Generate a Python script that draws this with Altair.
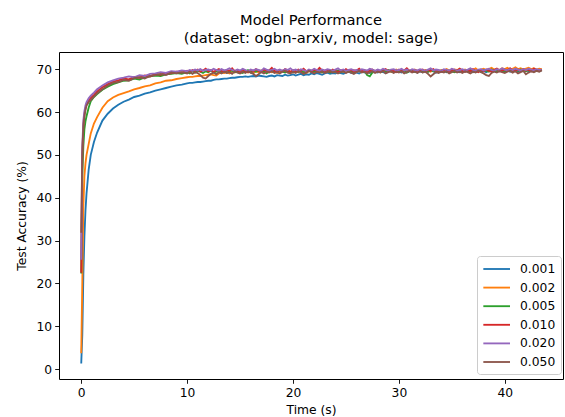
import altair as alt
import pandas as pd

time_s = [0, 0.1, 0.2, 0.3, 0.4, 0.5, 0.7, 0.9, 1.2, 1.5, 2.0, 2.5, 3.0, 3.5,
          4.0, 4.5, 5.0, 5.5, 6.0, 6.5, 7.0, 7.5, 8.0, 8.5, 9.0, 9.5,
          10.0, 10.25, 10.5, 10.75, 11.0, 11.25, 11.5, 11.75,
          12.0, 12.25, 12.5, 12.75, 13.0, 13.25, 13.5, 13.75,
          14.0, 14.25, 14.5, 14.75, 15.0, 15.25, 15.5, 15.75,
          16.0, 16.25, 16.5, 16.75, 17.0, 17.25, 17.5, 17.75,
          18.0, 18.25, 18.5, 18.75, 19.0, 19.25, 19.5, 19.75,
          20.0, 20.25, 20.5, 20.75, 21.0, 21.25, 21.5, 21.75,
          22.0, 22.25, 22.5, 22.75, 23.0, 23.25, 23.5, 23.75,
          24.0, 24.25, 24.5, 24.75, 25.0, 25.25, 25.5, 25.75,
          26.0, 26.25, 26.5, 26.75, 27.0, 27.25, 27.5, 27.75,
          28.0, 28.25, 28.5, 28.75, 29.0, 29.25, 29.5, 29.75,
          30.0, 30.25, 30.5, 30.75, 31.0, 31.25, 31.5, 31.75,
          32.0, 32.25, 32.5, 32.75, 33.0, 33.25, 33.5, 33.75,
          34.0, 34.25, 34.5, 34.75, 35.0, 35.25, 35.5, 35.75,
          36.0, 36.25, 36.5, 36.75, 37.0, 37.25, 37.5, 37.75,
          38.0, 38.25, 38.5, 38.75, 39.0, 39.25, 39.5, 39.75,
          40.0, 40.25, 40.5, 40.75, 41.0, 41.25, 41.5, 41.75,
          42.0, 42.25, 42.5, 42.75, 43.0, 43.25, 43.5]

acc_0001 = [1.3, 8.0, 22.0, 31.0, 37.0, 41.0, 46.5, 50.0, 53.0, 55.2, 58.0, 59.6, 60.8, 61.7,
            62.4, 62.9, 63.5, 63.8, 64.3, 64.6, 65.0, 65.3, 65.6, 65.9, 66.2, 66.4,
            66.7, 66.8, 66.8, 66.9, 67.0, 67.0, 67.1, 67.2,
            67.3, 67.3, 67.5, 67.6, 67.6, 67.7, 67.8, 67.8,
            67.9, 68.0, 68.0, 68.1, 68.2, 68.2, 68.3, 68.2,
            68.3, 68.4, 68.3, 68.5, 68.4, 68.3, 68.2, 68.4,
            68.5, 68.3, 68.6, 68.5, 68.4, 68.7, 68.5, 68.6,
            68.8, 68.5, 68.7, 68.9, 68.6, 68.8, 68.7, 69.0,
            68.8, 69.1, 68.9, 68.7, 69.0, 69.2, 68.9, 69.1,
            69.0, 69.3, 69.1, 68.9, 69.2, 69.4, 69.1, 69.3,
            69.2, 69.0, 69.4, 69.2, 69.5, 69.1, 69.3, 69.4,
            69.2, 69.5, 69.3, 69.1, 69.4, 69.6, 69.3, 69.5,
            69.4, 69.2, 69.6, 69.3, 69.5, 69.7, 69.4, 69.2,
            69.5, 69.3, 69.6, 69.4, 69.7, 69.5, 69.2, 69.6,
            69.4, 69.7, 69.3, 69.5, 69.8, 69.4, 69.6, 69.3,
            69.6, 69.4, 69.7, 69.5, 69.3, 69.6, 69.8, 69.4,
            69.6, 69.3, 69.7, 69.5, 69.8, 69.4, 69.6, 69.7,
            69.5, 69.8, 69.4, 69.6, 69.9, 69.5, 69.7, 69.6,
            69.8, 69.5, 69.7, 69.9, 69.6, 69.8, 69.7]

acc_0002 = [3.7, 20.0, 38.0, 45.0, 48.0, 50.0, 52.5, 55.0, 57.3, 58.8, 61.0, 62.5, 63.4, 64.0,
            64.4, 64.8, 65.3, 65.6, 66.0, 66.2, 66.7, 66.9, 67.3, 67.4, 67.7, 67.9,
            68.1, 68.2, 68.2, 68.3, 68.4, 68.4, 68.5, 68.6,
            68.7, 68.8, 68.6, 68.5, 69.0, 69.2, 69.1, 69.3,
            69.0, 69.4, 69.2, 69.5, 69.1, 69.3, 69.6, 69.2,
            69.4, 69.1, 69.5, 69.3, 69.7, 69.2, 69.4, 69.6,
            69.3, 69.5, 69.1, 69.4, 69.6, 69.3, 69.7, 69.4,
            69.2, 69.5, 69.3, 69.6, 69.4, 69.1, 69.5, 69.7,
            69.3, 69.6, 69.4, 69.2, 69.5, 69.8, 69.4, 69.6,
            69.3, 69.5, 69.7, 69.4, 69.2, 69.6, 69.5, 69.8,
            69.4, 69.6, 69.3, 69.7, 69.5, 69.4, 69.8, 69.5,
            69.6, 69.3, 69.7, 69.5, 69.8, 69.4, 69.6, 69.9,
            69.5, 69.7, 69.4, 69.8, 69.6, 69.5, 69.9, 69.6,
            69.7, 69.5, 69.8, 69.6, 69.4, 69.9, 69.7, 69.5,
            69.8, 69.6, 70.0, 69.7, 69.5, 69.9, 69.8, 70.1,
            69.7, 69.9, 69.6, 70.0, 69.8, 70.2, 69.7, 69.9,
            70.1, 69.8, 70.0, 70.3, 69.9, 70.1, 69.8, 70.2,
            70.0, 70.3, 69.9, 70.1, 70.4, 70.0, 70.2, 69.9,
            70.1, 70.3, 70.0, 70.2, 69.9, 70.1, 70.0]

acc_0005 = [22.3, 45.0, 52.0, 56.0, 57.8, 59.0, 61.0, 62.5, 63.5, 64.2, 65.2, 65.9, 66.5, 66.9,
            67.3, 67.4, 67.8, 67.6, 68.1, 68.3, 68.5, 68.4, 68.8, 68.9, 69.1, 68.9,
            69.3, 69.0, 69.5, 69.2, 69.6, 69.4, 69.1, 69.5,
            69.3, 69.7, 69.2, 69.4, 69.8, 69.3, 69.6, 69.2,
            69.5, 69.7, 69.3, 69.6, 69.4, 69.1, 69.5, 69.8,
            69.2, 69.6, 69.4, 69.7, 69.3, 69.5, 69.0, 69.4,
            69.7, 69.3, 69.5, 69.8, 69.4, 69.2, 69.6, 69.3,
            69.5, 69.8, 69.4, 69.6, 69.2, 69.5, 69.7, 69.3,
            69.6, 69.4, 69.8, 69.3, 69.5, 69.7, 69.2, 69.6,
            69.4, 69.7, 69.3, 69.5, 69.8, 69.4, 69.6, 69.2,
            69.5, 69.7, 69.4, 69.6, 68.6, 68.3, 69.2, 69.5,
            69.7, 69.3, 69.6, 69.4, 69.8, 69.5, 69.3, 69.6,
            69.4, 69.7, 69.5, 69.2, 69.6, 69.8, 69.4, 69.5,
            69.7, 69.3, 69.6, 69.4, 69.8, 69.5, 69.7, 69.3,
            69.6, 69.8, 69.4, 69.7, 69.5, 69.3, 69.6, 69.9,
            69.5, 69.7, 69.4, 69.8, 69.6, 69.3, 69.7, 69.5,
            69.8, 69.6, 69.4, 69.9, 69.7, 69.5, 69.8, 69.6,
            69.4, 69.7, 69.9, 69.5, 69.8, 69.6, 69.9, 69.7,
            69.5, 69.8, 69.6, 69.9, 69.7, 69.5, 69.8]

acc_0010 = [22.5, 50.0, 57.0, 59.5, 60.8, 61.8, 62.7, 63.3, 64.0, 64.8, 65.8, 66.5, 67.1, 67.4,
            67.8, 67.6, 68.2, 68.0, 68.5, 68.3, 68.9, 68.7, 69.1, 69.0, 69.4, 69.2,
            69.6, 69.3, 69.8, 69.5, 69.9, 69.4, 69.7, 70.1,
            69.5, 69.8, 69.4, 69.7, 70.0, 69.6, 69.3, 69.8,
            69.6, 70.2, 69.5, 69.7, 69.4, 69.9, 69.6, 69.3,
            69.8, 69.5, 70.0, 69.6, 69.4, 69.9, 69.5, 69.7,
            70.3, 69.6, 69.4, 69.8, 69.5, 70.0, 69.7, 69.4,
            69.8, 69.5, 69.9, 69.6, 70.1, 69.5, 69.7, 69.4,
            69.9, 69.6, 70.3, 69.7, 69.5, 69.8, 69.4, 69.9,
            69.6, 69.3, 69.8, 69.5, 70.0, 69.6, 69.8, 69.4,
            69.7, 70.1, 69.5, 69.8, 69.3, 69.7, 69.9, 69.5,
            69.8, 69.4, 69.7, 70.0, 69.5, 69.8, 69.6, 69.3,
            69.9, 69.5, 69.7, 70.2, 69.6, 69.4, 69.8, 69.5,
            69.7, 69.9, 69.4, 69.8, 69.6, 70.0, 69.5, 69.7,
            69.4, 69.8, 69.6, 69.3, 69.9, 69.5, 69.7, 70.1,
            69.6, 69.4, 69.8, 69.5, 70.0, 69.6, 69.3, 69.8,
            69.5, 69.9, 69.6, 69.4, 69.8, 70.1, 69.5, 69.7,
            69.9, 69.6, 70.2, 69.7, 69.5, 69.9, 69.6, 70.0,
            69.7, 69.9, 69.5, 70.1, 69.8, 69.6, 69.9]

acc_0020 = [25.5, 52.0, 58.0, 60.2, 61.5, 62.3, 63.2, 63.8, 64.5, 65.3, 66.2, 66.9, 67.4, 67.8,
            68.0, 68.3, 68.1, 68.6, 68.4, 68.9, 69.0, 69.3, 69.1, 69.5, 69.4, 69.7,
            69.5, 69.8, 69.6, 69.9, 69.7, 70.0, 69.6, 69.8,
            69.9, 69.7, 70.1, 69.8, 69.6, 70.0, 69.7, 69.9,
            70.2, 69.8, 69.6, 69.9, 69.7, 70.1, 69.8, 69.5,
            69.9, 69.7, 70.0, 69.8, 69.6, 70.2, 69.9, 69.7,
            69.8, 70.1, 69.7, 69.9, 69.6, 70.0, 69.8, 70.2,
            69.7, 69.9, 69.6, 70.0, 69.8, 69.5, 69.9, 69.7,
            70.1, 69.8, 69.6, 69.9, 69.7, 70.0, 69.8, 69.6,
            69.9, 70.2, 69.7, 69.9, 69.6, 69.8, 70.0, 69.7,
            69.8, 69.6, 70.0, 69.8, 69.7, 70.1, 69.9, 69.6,
            69.9, 69.7, 70.1, 69.8, 69.6, 69.9, 70.0, 69.7,
            69.8, 70.1, 69.7, 69.9, 69.6, 70.0, 69.8, 69.7,
            70.0, 69.8, 69.6, 69.9, 70.2, 69.7, 69.9, 69.8,
            69.6, 70.0, 69.8, 69.7, 70.1, 69.9, 69.6, 69.8,
            70.0, 69.7, 69.9, 70.2, 69.8, 69.6, 69.9, 70.0,
            69.7, 69.9, 70.1, 69.8, 69.6, 70.0, 69.8, 70.2,
            69.9, 69.7, 70.0, 69.8, 70.1, 69.9, 69.7, 70.0,
            69.8, 70.1, 69.9, 69.7, 70.0, 69.8, 69.9]

acc_0050 = [31.8, 50.4, 56.5, 59.0, 60.5, 61.5, 62.3, 62.8, 63.6, 64.4, 65.3, 66.2, 66.8, 67.0,
            67.5, 67.3, 67.9, 68.1, 67.8, 68.4, 68.6, 68.9, 68.6, 69.2, 69.0, 69.3,
            69.0, 69.4, 68.9, 69.3, 69.1, 68.6, 68.0, 67.8,
            68.4, 68.9, 69.2, 68.8, 69.3, 69.0, 69.4, 69.1,
            69.3, 68.9, 69.5, 69.2, 69.0, 69.4, 69.1, 69.5,
            69.2, 68.9, 68.4, 68.8, 69.3, 69.0, 69.4, 69.2,
            69.5, 69.1, 69.3, 69.0, 69.4, 69.6, 69.2, 69.0,
            69.4, 69.1, 69.5, 69.3, 68.9, 69.2, 69.6, 69.3,
            69.0, 69.4, 69.2, 69.5, 69.1, 69.3, 69.6, 69.2,
            69.4, 69.0, 69.3, 69.5, 69.1, 69.4, 69.2, 68.9,
            69.3, 69.6, 69.2, 69.4, 69.0, 69.3, 69.5, 69.1,
            69.4, 69.2, 69.6, 69.0, 69.3, 69.5, 69.1, 69.4,
            69.2, 69.5, 69.0, 69.3, 69.6, 69.2, 69.4, 69.1,
            69.5, 69.2, 69.4, 68.9, 68.3, 68.8, 69.3, 69.1,
            69.4, 69.2, 69.5, 69.0, 69.3, 69.6, 69.2, 69.4,
            69.1, 69.5, 69.3, 69.0, 69.4, 69.2, 69.6, 69.3,
            69.0, 68.6, 68.4, 69.1, 69.4, 69.2, 69.5, 69.3,
            69.1, 69.4, 69.6, 69.2, 69.5, 69.0, 69.3, 69.6,
            68.8, 69.2, 69.5, 69.3, 69.6, 69.4, 69.7]

series_names = ["0.001", "0.002", "0.005", "0.010", "0.020", "0.050"]
series_values = [acc_0001, acc_0002, acc_0005, acc_0010, acc_0020, acc_0050]
colors = ["#1f77b4", "#ff7f0e", "#2ca02c", "#d62728", "#9467bd", "#8c564b"]

rows = []
for k, (name, vals) in enumerate(zip(series_names, series_values)):
    for t, v in zip(time_s, vals):
        rows.append({"lr": name, "order": k, "time": t, "acc": v})
df = pd.DataFrame(rows)

FONT = "DejaVu Sans"

chart = alt.Chart(df).mark_line(strokeWidth=1.85, clip=True).encode(
    x=alt.X("time:Q",
            scale=alt.Scale(domain=[-2.1, 45.5], nice=False, zero=False),
            axis=alt.Axis(values=[0, 10, 20, 30, 40], format="d", title="Time (s)",
                          grid=False, domain=False, tickColor="black", tickSize=4.3,
                          tickWidth=0.9, labelColor="black", labelFontSize=12.3,
                          labelFont=FONT, labelPadding=3, titleFont=FONT,
                          titleFontSize=12.3, titleFontWeight="normal",
                          titleColor="black", titlePadding=5)),
    y=alt.Y("acc:Q",
            scale=alt.Scale(domain=[-2.3, 74.0], nice=False, zero=False),
            axis=alt.Axis(values=[0, 10, 20, 30, 40, 50, 60, 70], format="d",
                          title="Test Accuracy (%)", grid=False, domain=False,
                          tickColor="black", tickSize=4.3, tickWidth=0.9,
                          labelColor="black", labelFontSize=12.3, labelFont=FONT,
                          labelPadding=3, titleFont=FONT, titleFontSize=12.3,
                          titleFontWeight="normal", titleColor="black",
                          titlePadding=8)),
    color=alt.Color("lr:N",
                    scale=alt.Scale(domain=series_names, range=colors),
                    legend=alt.Legend(title=None, orient="none", legendX=418,
                                      legendY=204, symbolType="M-1,0H3",
                                      symbolSize=178, symbolStrokeWidth=1.85,
                                      labelFont=FONT, labelFontSize=12.3,
                                      labelColor="black", labelOffset=22,
                                      padding=5, rowPadding=3.6,
                                      strokeColor="#cccccc",
                                      fillColor="rgba(255,255,255,0.8)",
                                      cornerRadius=3)),
    order=alt.Order("order:Q"),
    detail="lr:N",
).properties(
    width=504,
    height=327,
    title=alt.TitleParams(
        text=["Model Performance", "(dataset: ogbn-arxiv, model: sage)"],
        font=FONT, fontSize=14.7, fontWeight="normal", color="black",
        anchor="middle", lineHeight=18, offset=6),
    autosize=alt.AutoSizeParams(type="none"),
    padding={"left": 59, "top": 52, "right": 2, "bottom": 38},
).configure_view(stroke="black", strokeWidth=1)

chart.save("out.html", embed_options={"renderer": "svg", "actions": False})
